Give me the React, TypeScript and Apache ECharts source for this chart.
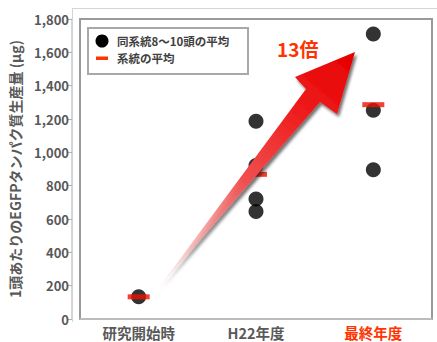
import React, { useEffect, useRef } from "react";
import * as echarts from "echarts";

const categories = ["研究開始時", "H22年度", "最終年度"];
const startValues = [133];
const h22Values = [1186, 921, 720, 645];
const finalValues = [1710, 1252, 896];
const meanValues = [133, 868, 1286];
const yTicks = { min: 0, max: 1800, interval: 200 };
const legendNames = ["同系統8～10頭の平均", "系統の平均"];
const yAxisTitle = "1頭あたりのEGFPタンパク質生産量 (μg)";
const annotation = "13倍";

const FONT = '"Noto Sans CJK JP", "Noto Sans", sans-serif';
const RED = "#ff3300";
const GRAY = "#595959";

export default function App() {
  const ref = useRef<HTMLDivElement>(null);
  useEffect(() => {
    document.body.style.margin = "0";
    const chart = echarts.init(ref.current!, null, { renderer: "svg" });
    const pointData: [number, number][] = [];
    startValues.forEach((v) => pointData.push([0, v]));
    h22Values.forEach((v) => pointData.push([1, v]));
    finalValues.forEach((v) => pointData.push([2, v]));
    const meanData = meanValues.map((v, i) => [i, v]);

    chart.setOption({
      animation: false,
      textStyle: { fontFamily: FONT },
      grid: {
        left: 80,
        right: 5,
        top: 19,
        bottom: 23,
        show: true,
        borderColor: "#9a9a9a",
        borderWidth: 2,
        backgroundColor: "#fff",
      },
      legend: { show: false },
      xAxis: {
        type: "category",
        data: categories,
        boundaryGap: true,
        offset: 3,
        axisLine: { lineStyle: { color: "#c8c8c8", width: 1.5 } },
        axisTick: { show: false },
        axisLabel: {
          margin: 3,
          fontSize: 14.5,
          lineHeight: 15,
          fontWeight: "bold",
          fontFamily: FONT,
          color: (_v: string, i: number) => (i === 2 ? RED : GRAY),
        },
        splitLine: { show: false },
      },
      yAxis: {
        type: "value",
        min: yTicks.min,
        max: yTicks.max,
        interval: yTicks.interval,
        offset: 8,
        name: yAxisTitle,
        nameLocation: "middle",
        nameRotate: 90,
        nameGap: 50,
        nameTextStyle: {
          fontSize: 14,
          fontWeight: "bold",
          color: GRAY,
          fontFamily: FONT,
        },
        axisLine: { show: true, lineStyle: { color: "#c8c8c8", width: 1.5 } },
        axisTick: { show: true, length: 4, lineStyle: { color: "#b0b0b0" } },
        axisLabel: {
          margin: 3,
          fontSize: 13,
          fontWeight: "bold",
          color: GRAY,
          fontFamily: FONT,
          formatter: (v: number) => v.toLocaleString("en-US"),
        },
        splitLine: { show: false },
      },
      series: [
        {
          name: legendNames[0],
          type: "scatter",
          data: pointData,
          symbol: "circle",
          symbolSize: 15,
          itemStyle: { color: "#000" },
          z: 2,
        },
        {
          name: legendNames[1],
          type: "scatter",
          data: meanData,
          symbol: "rect",
          symbolSize: [22, 5],
          itemStyle: { color: "#ee1100" },
          z: 3,
        },
      ],
      graphic: [
        {
          type: "line",
          shape: { x1: 72, y1: 8.5, x2: 437, y2: 8.5 },
          style: { stroke: "#d4d4d4", lineWidth: 1 },
          z: 1,
        },
        {
          type: "line",
          shape: { x1: 72.5, y1: 8, x2: 72.5, y2: 322 },
          style: { stroke: "#d4d4d4", lineWidth: 1 },
          z: 1,
        },
        {
          type: "polygon",
          z: 20,
          shape: {
            points: [
              [355, 52],
              [295, 77],
              [306, 89],
              [157, 290],
              [320, 102],
              [337, 114],
            ],
          },
          style: {
            fill: {
              type: "linear",
              x: 157,
              y: 290,
              x2: 355,
              y2: 52,
              global: true,
              colorStops: [
                { offset: 0, color: "rgba(250,200,200,0.05)" },
                { offset: 0.18, color: "rgba(245,160,160,0.7)" },
                { offset: 0.45, color: "#f05050" },
                { offset: 0.75, color: "#ee1a1a" },
                { offset: 1, color: "#e60000" },
              ],
            },
            shadowColor: "rgba(0,0,0,0.55)",
            shadowBlur: 3,
            shadowOffsetX: 2,
            shadowOffsetY: 3,
          },
        },
        {
          type: "text",
          z: 21,
          x: 277,
          y: 48,
          style: {
            text: annotation,
            fill: RED,
            fontSize: 19,
            fontWeight: "bold",
            fontFamily: FONT,
            verticalAlign: "middle",
            align: "left",
          },
        },
        {
          type: "group",
          z: 22,
          children: [
            {
              type: "rect",
              shape: { x: 88, y: 28, width: 160, height: 46 },
              style: { fill: "#fff", stroke: "#a8a8a8", lineWidth: 2 },
            },
            {
              type: "circle",
              shape: { cx: 102, cy: 41, r: 6.5 },
              style: { fill: "#000" },
            },
            {
              type: "rect",
              shape: { x: 96, y: 56.5, width: 12, height: 3.5 },
              style: { fill: RED },
            },
            {
              type: "text",
              x: 117,
              y: 41,
              style: {
                text: legendNames[0],
                fill: "#404040",
                fontSize: 11.5,
                fontWeight: "bold",
                fontFamily: FONT,
                verticalAlign: "middle",
              },
            },
            {
              type: "text",
              x: 117,
              y: 58,
              style: {
                text: legendNames[1],
                fill: "#404040",
                fontSize: 11.5,
                fontWeight: "bold",
                fontFamily: FONT,
                verticalAlign: "middle",
              },
            },
          ],
        },
      ],
    });
    return () => chart.dispose();
  }, []);
  return (
    <div
      ref={ref}
      style={{ position: "fixed", left: 0, top: 0, width: 437, height: 342, background: "#fff" }}
    />
  );
}
